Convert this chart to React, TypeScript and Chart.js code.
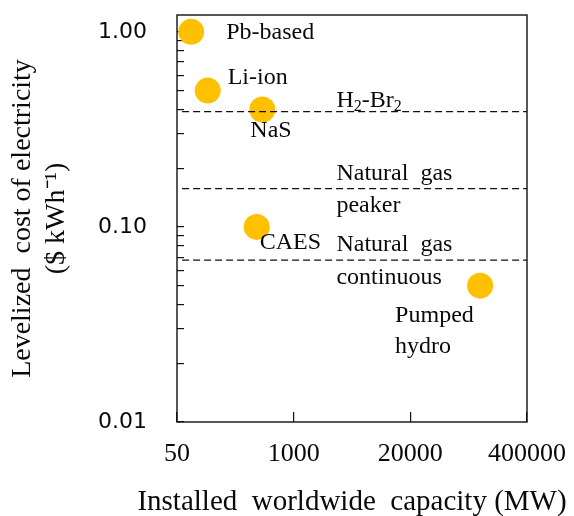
import React, { useEffect, useRef } from 'react';
import { Chart, registerables } from 'chart.js';

Chart.register(...registerables);

// ---- data ----
const technologies = ['Pb-based', 'Li-ion', 'NaS', 'CAES', 'Pumped hydro'];
const capacityMW = [72, 110, 447, 387, 120000];
const costUSDperKWh = [1.0, 0.5, 0.4, 0.1, 0.05];

const referenceNames = ['H₂-Br₂', 'Natural  gas|peaker', 'Natural  gas|continuous'];
const referenceCost = [0.39, 0.157, 0.0675];
const referenceSpanMW = [57, 400000];
const referenceLabelMW = 3000;

const xTickValues = [50, 1000, 20000, 400000];
const xTickLabels = ['50', '1000', '20000', '400000'];
const yTickValues = [
  0.01, 0.02, 0.03, 0.04, 0.05, 0.06, 0.07, 0.08, 0.09,
  0.1, 0.2, 0.3, 0.4, 0.5, 0.6, 0.7, 0.8, 0.9, 1,
];
const yLabelValues = [0.01, 0.1, 1];
const yTickLabels = ['0.01', '0.10', '1.00'];
const xAxisTitle = 'Installed  worldwide  capacity (MW)';
const yAxisTitle = ['Levelized  cost of electricity', '($ kWh⁻¹)'];

// ---- label layout (pixel offsets from anchors) ----
const pointLabelOffsets = [
  { dx: 35, dy: [7] },
  { dx: 20, dy: [-7] },
  { dx: -12, dy: [28] },
  { dx: 3, dy: [22] },
  { dx: -85, dy: [36, 67] },
];
const refLabelOffsets = [
  { dy: [-5] },
  { dy: [-9, 23.5] },
  { dy: [-9, 23.5] },
];

const SERIF = "'Liberation Serif', 'Times New Roman', serif";
const TEXT = '#0a0a0a';
const SUBS: Record<string, string> = { '₀': '0', '₁': '1', '₂': '2', '₃': '3' };

function drawRich(ctx: CanvasRenderingContext2D, text: string, x: number, y: number, size: number) {
  let cx = x;
  for (const ch of text) {
    if (SUBS[ch]) {
      ctx.font = `${Math.round(size * 0.68)}px ${SERIF}`;
      ctx.fillText(SUBS[ch], cx, y + size * 0.2);
      cx += ctx.measureText(SUBS[ch]).width;
    } else {
      ctx.font = `${size}px ${SERIF}`;
      ctx.fillText(ch, cx, y);
      cx += ctx.measureText(ch).width;
    }
  }
}

const annotationPlugin = {
  id: 'annotations',
  afterDraw(chart: any) {
    const { ctx, chartArea, scales } = chart;
    const xs = scales.x;
    const ys = scales.y;
    ctx.save();
    // frame
    ctx.strokeStyle = '#111';
    ctx.lineWidth = 1.4;
    ctx.strokeRect(chartArea.left, chartArea.top, chartArea.right - chartArea.left, chartArea.bottom - chartArea.top);

    ctx.fillStyle = TEXT;
    ctx.textAlign = 'left';
    ctx.textBaseline = 'alphabetic';
    const size = 24;
    technologies.forEach((name, i) => {
      const px = xs.getPixelForValue(capacityMW[i]);
      const py = ys.getPixelForValue(costUSDperKWh[i]);
      const off = pointLabelOffsets[i];
      const lines = name === 'Pumped hydro' ? ['Pumped', 'hydro'] : [name];
      lines.forEach((ln, j) => drawRich(ctx, ln, px + off.dx, py + off.dy[j], size));
    });
    referenceNames.forEach((name, i) => {
      const px = xs.getPixelForValue(referenceLabelMW);
      const py = ys.getPixelForValue(referenceCost[i]);
      const off = refLabelOffsets[i];
      name.split('|').forEach((ln, j) => drawRich(ctx, ln, px, py + off.dy[j], size));
    });

    // x-axis title (wider than the plot area, so drawn here without max width)
    ctx.font = `29px ${SERIF}`;
    ctx.textAlign = 'center';
    ctx.textBaseline = 'middle';
    ctx.fillText(xAxisTitle, (chartArea.left + chartArea.right) / 2, xs.bottom - 14);
    ctx.restore();
  },
};

function zeroPadding(scale: any) {
  scale.paddingTop = 0;
  scale.paddingBottom = 0;
  scale.paddingLeft = 0;
  scale.paddingRight = 0;
}

export default function App() {
  const canvasRef = useRef<HTMLCanvasElement | null>(null);

  useEffect(() => {
    if (!canvasRef.current) return;
    const refDatasets = referenceCost.map((c, i) => ({
      label: referenceNames[i],
      data: referenceSpanMW.map((x) => ({ x, y: c })),
      showLine: true,
      borderColor: '#111',
      borderWidth: 1.3,
      borderDash: [7, 4],
      pointRadius: 0,
      pointHoverRadius: 0,
      fill: false,
      order: 1,
    }));
    const chart = new Chart(canvasRef.current, {
      type: 'scatter',
      data: {
        datasets: [
          ...refDatasets,
          {
            label: 'Technologies',
            data: capacityMW.map((x, i) => ({ x, y: costUSDperKWh[i] })),
            backgroundColor: '#FFC000',
            borderWidth: 0,
            pointRadius: 13,
            pointHoverRadius: 13,
            order: 2,
          },
        ],
      } as any,
      options: {
        responsive: false,
        animation: false,
        events: [],
        layout: { padding: { top: 15, right: 47, left: 0, bottom: 0 } },
        plugins: { legend: { display: false }, tooltip: { enabled: false } },
        scales: {
          x: {
            type: 'logarithmic',
            min: 50,
            max: 400000,
            afterBuildTicks: (scale: any) => {
              scale.ticks = xTickValues.map((v) => ({ value: v }));
            },
            afterFit: (scale: any) => {
              scale.height = 94;
              zeroPadding(scale);
            },
            grid: { display: true, drawOnChartArea: false, drawTicks: true, tickLength: -10, color: '#111', lineWidth: 1.2 },
            border: { display: false },
            ticks: {
              autoSkip: false,
              maxRotation: 0,
              minRotation: 0,
              padding: 27,
              color: TEXT,
              font: { family: SERIF, size: 26 },
              callback: (value: any) => {
                const k = xTickValues.indexOf(Number(value));
                return k >= 0 ? xTickLabels[k] : '';
              },
            },
            title: { display: false },
          },
          y: {
            type: 'logarithmic',
            min: 0.01,
            max: 1.22,
            afterBuildTicks: (scale: any) => {
              scale.ticks = yTickValues.map((v) => ({ value: v }));
            },
            afterFit: (scale: any) => {
              scale.width = 177;
              zeroPadding(scale);
            },
            grid: { display: true, drawOnChartArea: false, drawTicks: true, tickLength: -7, color: '#111', lineWidth: 1.2 },
            border: { display: false },
            ticks: {
              autoSkip: false,
              padding: 37,
              color: TEXT,
              font: { family: "'DejaVu Sans', sans-serif", size: 22 },
              callback: (value: any) => {
                const v = Number(value);
                const k = yLabelValues.findIndex((t) => Math.abs(t - v) < 1e-9);
                return k >= 0 ? yTickLabels[k] : '';
              },
            },
            title: {
              display: true,
              text: yAxisTitle,
              color: TEXT,
              font: { family: SERIF, size: 28, lineHeight: 1.2 },
              padding: { top: 6, bottom: 0 },
            },
          },
        },
      },
      plugins: [annotationPlugin],
    } as any);
    return () => chart.destroy();
  }, []);

  return (
    <div style={{ position: 'fixed', left: 0, top: 0, width: 574, height: 516, background: '#fff' }}>
      <canvas ref={canvasRef} width={574} height={516} style={{ width: 574, height: 516, display: 'block' }} />
    </div>
  );
}
